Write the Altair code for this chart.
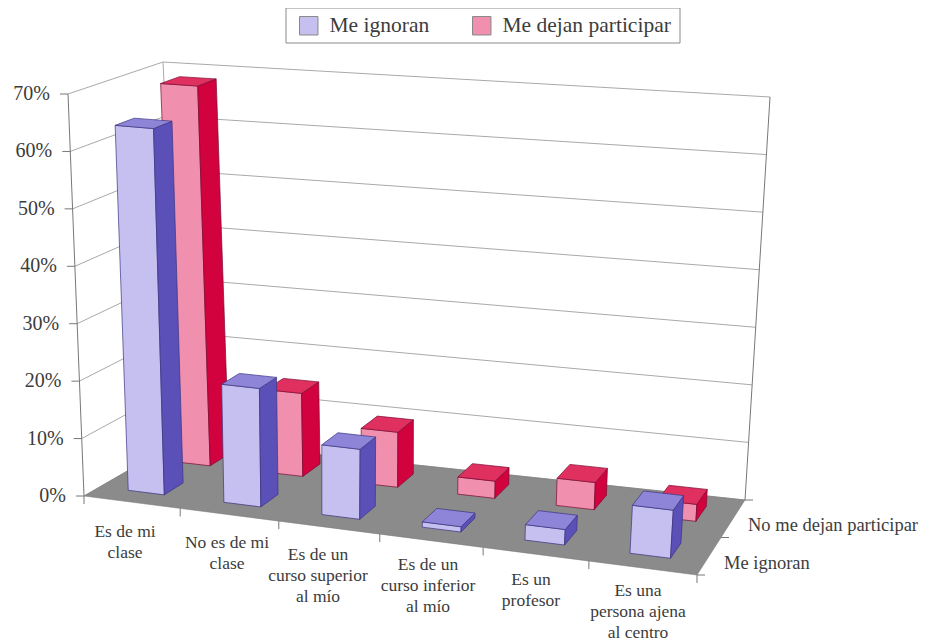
import altair as alt

categories = ["Es de mi\nclase", "No es de mi\nclase", "Es de un\ncurso superior\nal mío",
              "Es de un\ncurso inferior\nal mío", "Es un\nprofesor", "Es una\npersona ajena\nal centro"]
me_ignoran = [64.0, 20.5, 12.0, 0.9, 2.6, 8.0]
me_dejan = [68.4, 14.8, 9.7, 3.0, 4.7, 2.9]
series_names = ["Me ignoran", "Me dejan participar"]
depth_labels = ["Me ignoran", "No me dejan participar"]
y_ticks = [0, 10, 20, 30, 40, 50, 60, 70]
label_x = [125, 227, 318, 428, 531, 638]
label_y = [523, 534, 546, 556, 571, 582]
depth_label_x = [724, 748]
depth_label_y = [563, 525]
legend_box = [(286, 8), (680, 8), (680, 43), (286, 43)]

# picture positions of the eight corners of the 3D box (front/back, left/right, bottom/top)
FLB, FRB, BRB, BLB = (84, 496), (697, 575), (745, 500), (181, 440)
FLT, FRT, BRT, BLT = (68, 94), (724, 149), (770, 97), (163, 62)
PERSPECTIVE = 0.07
OFF = 8


def lerp(a, b, t):
    return (a[0] + (b[0] - a[0]) * t, a[1] + (b[1] - a[1]) * t)


def proj(u, v, h):
    """u: category 0..6, v: depth 0..2, h: percent 0..70"""
    uu, vv, hh = u / 6, v / 2, h / 70
    uu = uu * (1 - PERSPECTIVE * (1 - uu))
    bottom = lerp(lerp(FLB, FRB, uu), lerp(BLB, BRB, uu), vv)
    top = lerp(lerp(FLT, FRT, uu), lerp(BLT, BRT, uu), vv)
    return list(lerp(bottom, top, hh))


def feature(points, kind, face="", stroke="#999999", width=1.0):
    closed = kind == "Polygon"
    coords = [points + [points[0]]] if closed else points
    return {"type": "Feature", "geometry": {"type": kind, "coordinates": coords},
            "properties": {"face": face, "stroke": stroke, "width": width}}


lines = []
for h in y_ticks:
    lines.append(feature([proj(0, 2, h), proj(6, 2, h)], "LineString", stroke="#a9a9a9"))
    lines.append(feature([proj(0, 0, h), proj(0, 2, h)], "LineString", stroke="#a9a9a9"))
lines.append(feature([proj(0, 2, 0), proj(0, 2, 70)], "LineString", stroke="#a9a9a9"))
lines.append(feature([proj(6, 2, 0), proj(6, 2, 70)], "LineString", stroke="#777777"))
lines.append(feature([proj(0, 0, 0), proj(0, 0, 70)], "LineString", stroke="#777777"))

floor = [feature([proj(0, 0, 0), proj(6, 0, 0), proj(6, 2, 0), proj(0, 2, 0)], "Polygon", face="Suelo")]
box = [feature([list(p) for p in legend_box], "Polygon", face="Leyenda")]

ticks = []
for h in y_ticks:
    p = proj(0, 0, h)
    ticks.append(feature([p, [p[0] - 8, p[1]]], "LineString", stroke="#777777"))
for i in range(7):
    p = proj(i, 0, 0)
    ticks.append(feature([p, [p[0], p[1] + 8]], "LineString", stroke="#777777"))
for i in range(3):
    p = proj(6, i, 0)
    ticks.append(feature([p, [p[0] + 8, p[1]]], "LineString", stroke="#777777"))

bar_u = (0.30, 0.68)
bar_v = (0.33, 0.74)
bars = []
for row, (name, values) in reversed(list(enumerate(zip(series_names, [me_ignoran, me_dejan])))):
    for i, val in enumerate(values):
        u0, u1 = i + bar_u[0], i + bar_u[1]
        v0, v1 = row + bar_v[0], row + bar_v[1]
        dark = "#3a3480" if row == 0 else "#7a0a30"
        bars.append(feature([proj(u0, v0, 0), proj(u1, v0, 0), proj(u1, v0, val), proj(u0, v0, val)],
                            "Polygon", face=name, stroke=dark, width=0.7))
        bars.append(feature([proj(u1, v0, 0), proj(u1, v1, 0), proj(u1, v1, val), proj(u1, v0, val)],
                            "Polygon", face=name + " lado", stroke=dark, width=0.7))
        bars.append(feature([proj(u0, v0, val), proj(u1, v0, val), proj(u1, v1, val), proj(u0, v1, val)],
                            "Polygon", face=name + " arriba", stroke=dark, width=0.7))

y_text = [{"t": f"{h}%", "lon": proj(0, 0, h)[0] - 18, "lat": proj(0, 0, h)[1]} for h in y_ticks]
cat_text = [{"t": c, "lon": x, "lat": y} for c, x, y in zip(categories, label_x, label_y)]
depth_text = [{"t": c, "lon": x, "lat": y} for c, x, y in zip(depth_labels, depth_label_x, depth_label_y)]

FONT = "Liberation Serif"
INK = "#3c3c3c"

line_layer = alt.Chart(alt.Data(values=lines)).mark_geoshape(filled=False, strokeWidth=1).encode(
    stroke=alt.Stroke("properties.stroke:N", scale=None))
box_layer = alt.Chart(alt.Data(values=box)).mark_geoshape(fill="#ffffff", stroke="#8a8a8a", strokeWidth=1)
floor_layer = alt.Chart(alt.Data(values=floor)).mark_geoshape(fill="#8b8b8b", stroke="#777777", strokeWidth=0.5)
domain = [series_names[0], series_names[1], series_names[0] + " lado", series_names[1] + " lado",
          series_names[0] + " arriba", series_names[1] + " arriba"]
colors = ["#c6c0f0", "#f190ae", "#5a50b8", "#d2023f", "#8f85d8", "#e0305f"]
bar_layer = alt.Chart(alt.Data(values=bars)).mark_geoshape(strokeWidth=0.7).encode(
    fill=alt.Fill("properties.face:N",
                  scale=alt.Scale(domain=domain, range=colors),
                  legend=alt.Legend(values=series_names, title=None, orient="none", legendX=290, legendY=7,
                                    direction="horizontal", symbolType="square", symbolSize=340,
                                    symbolStrokeColor="#888888", symbolStrokeWidth=1,
                                    labelFont=FONT, labelFontSize=21.5, labelColor=INK, labelLimit=300,
                                    padding=0, columnPadding=40, labelOffset=10)),
    stroke=alt.Stroke("properties.stroke:N", scale=None),
)
tick_layer = alt.Chart(alt.Data(values=ticks)).mark_geoshape(filled=False, strokeWidth=1).encode(
    stroke=alt.Stroke("properties.stroke:N", scale=None))

y_layer = alt.Chart(alt.Data(values=y_text)).mark_text(
    font=FONT, fontSize=20, color=INK, align="right", baseline="middle").encode(
    longitude="lon:Q", latitude="lat:Q", text="t:N")
cat_layer = alt.Chart(alt.Data(values=cat_text)).mark_text(
    font=FONT, fontSize=17.5, color=INK, align="center", baseline="top", lineBreak="\n", lineHeight=21).encode(
    longitude="lon:Q", latitude="lat:Q", text="t:N")
depth_layer = alt.Chart(alt.Data(values=depth_text)).mark_text(
    font=FONT, fontSize=18.5, color=INK, align="left", baseline="middle").encode(
    longitude="lon:Q", latitude="lat:Q", text="t:N")

chart = alt.layer(line_layer, box_layer, floor_layer, bar_layer, tick_layer, y_layer, cat_layer, depth_layer).project(
    type="identity", scale=1, translate=[-OFF, -OFF]
).properties(
    width=919, height=635, padding=0, background="#ffffff",
    autosize=alt.AutoSizeParams(type="none"),
).configure_view(stroke=None)

chart.save("out.html", embed_options={"renderer": "svg", "actions": False})
